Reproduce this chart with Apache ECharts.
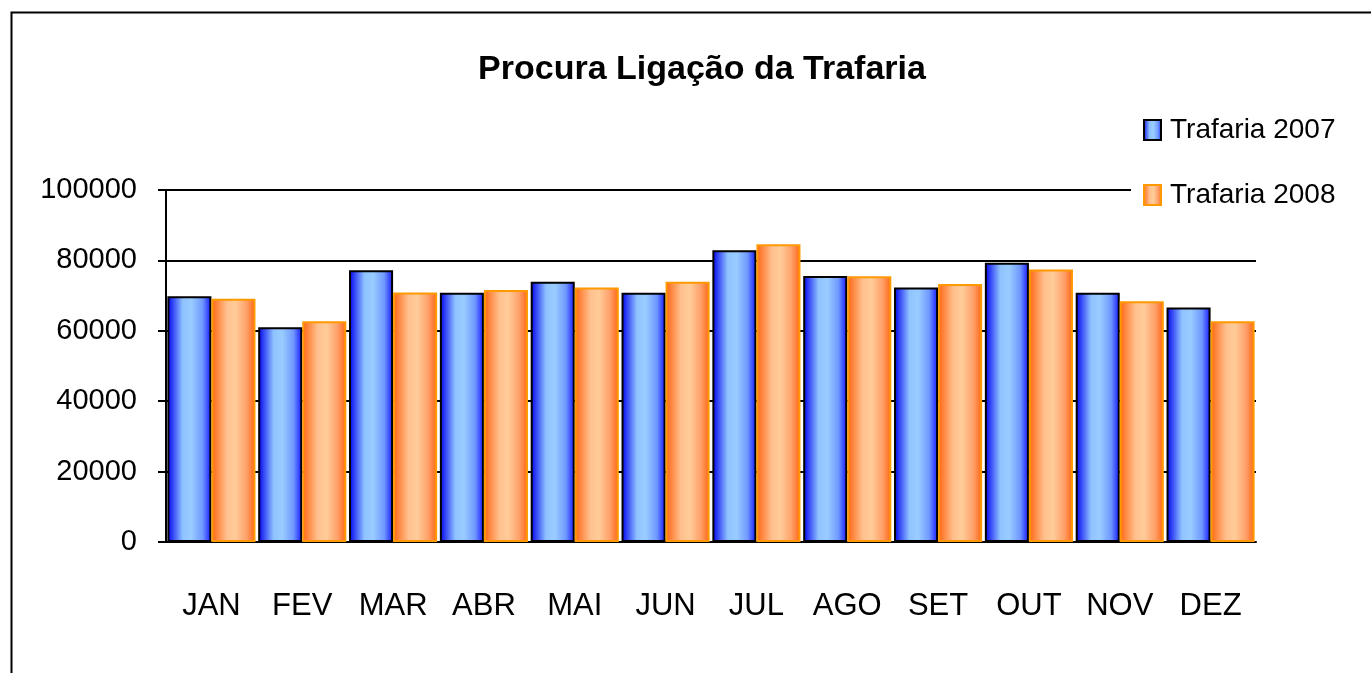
<!DOCTYPE html>
<html>
<head>
<meta charset="utf-8">
<script src="https://cdn.jsdelivr.net/npm/echarts@6/dist/echarts.min.js"></script>
<style>
  html, body { margin: 0; padding: 0; background: #fff; }
  #chart { width: 1371px; height: 673px; }
</style>
</head>
<body>
<div id="chart"></div>
<script>
const months = ['JAN', 'FEV', 'MAR', 'ABR', 'MAI', 'JUN', 'JUL', 'AGO', 'SET', 'OUT', 'NOV', 'DEZ'];
const trafaria2007 = [69800, 61000, 77200, 70800, 73900, 70800, 82900, 75600, 72300, 79300, 70800, 66600];
const trafaria2008 = [69100, 62700, 70900, 71600, 72300, 73900, 84600, 75500, 73300, 77400, 68400, 62700];
const yTicks = [0, 20000, 40000, 60000, 80000, 100000];

const font = 'Liberation Sans, Arial, sans-serif';

function grad(stops) {
  return new echarts.graphic.LinearGradient(0, 0, 1, 0, stops);
}

const blueFill = grad([
  { offset: 0, color: '#0000f0' },
  { offset: 0.35, color: '#8fc3ff' },
  { offset: 0.55, color: '#99ccff' },
  { offset: 0.8, color: '#6f98ff' },
  { offset: 1, color: '#1414ff' }
]);
const orangeFill = grad([
  { offset: 0, color: '#ff6410' },
  { offset: 0.35, color: '#ffc08e' },
  { offset: 0.55, color: '#ffcc99' },
  { offset: 0.8, color: '#ffa06a' },
  { offset: 1, color: '#ff6410' }
]);

const chart = echarts.init(document.getElementById('chart'));

let option = {
  backgroundColor: '#fff',
  animation: false,
  title: {
    text: 'Procura Ligação da Trafaria',
    left: 697,
    top: 47,
    textAlign: 'center',
    textStyle: { fontFamily: font, fontWeight: 'bold', fontSize: 34, color: '#000', lineHeight: 36 }
  },
  legend: {
    orient: 'vertical',
    left: 1131,
    top: 110,
    padding: [5, 20, 5, 12],
    backgroundColor: '#fff',
    icon: 'rect',
    itemWidth: 17,
    itemHeight: 20,
    itemGap: 35,
    textStyle: { fontFamily: font, fontSize: 28, color: '#000', lineHeight: 30, padding: [0, 0, 0, 4] },
    data: ['Trafaria 2007', 'Trafaria 2008']
  },
  grid: { left: 166, right: 115, top: 190, bottom: 131, containLabel: false },
  xAxis: {
    type: 'category',
    data: months,
    axisLine: { lineStyle: { color: '#000', width: 2 } },
    axisTick: { length: 8, lineStyle: { color: '#000', width: 2 } },
    axisLabel: { fontFamily: font, fontSize: 31, color: '#000', margin: 49 }
  },
  yAxis: {
    type: 'value',
    min: yTicks[0],
    max: yTicks[yTicks.length - 1],
    interval: yTicks[1] - yTicks[0],
    axisLine: { show: true, lineStyle: { color: '#000', width: 2 } },
    axisTick: { show: true, length: 8, lineStyle: { color: '#000', width: 2 } },
    axisLabel: { fontFamily: font, fontSize: 29, color: '#000', margin: 29, formatter: v => String(v) },
    splitLine: { lineStyle: { color: '#000', width: 2 } }
  },
  series: [
    {
      name: 'Trafaria 2007',
      type: 'bar',
      data: trafaria2007,
      barCategoryGap: '3%',
      barGap: '0%',
      itemStyle: { color: blueFill, borderColor: '#000', borderWidth: 2 }
    },
    {
      name: 'Trafaria 2008',
      type: 'bar',
      data: trafaria2008,
      barCategoryGap: '3%',
      barGap: '0%',
      itemStyle: { color: orangeFill, borderColor: '#ff9900', borderWidth: 2 }
    }
  ],
  graphic: [
    {
      type: 'rect',
      left: 9,
      top: 10,
      shape: { width: 1420, height: 720 },
      style: { fill: 'none', stroke: '#000', lineWidth: 2 },
      z: 100
    }
  ]
};

chart.setOption(option);
</script>
</body>
</html>
